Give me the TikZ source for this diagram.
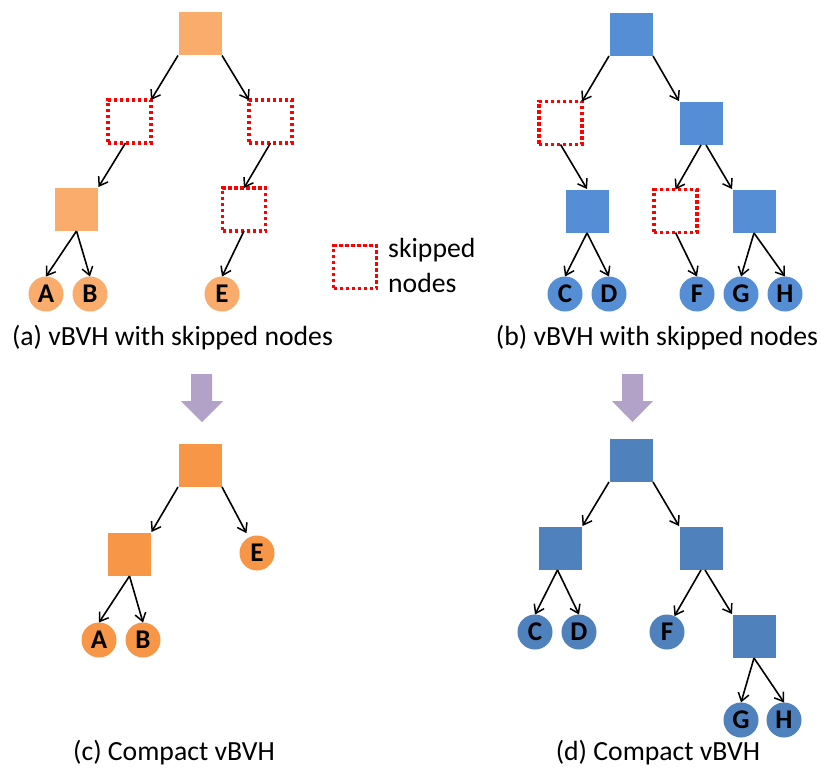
\documentclass[tikz,border=0pt]{standalone}
\usepackage{fontspec}
\setmainfont{Carlito}
\usetikzlibrary{arrows.meta}
\definecolor{orA}{RGB}{249,172,107}
\definecolor{orC}{RGB}{247,150,70}
\definecolor{blB}{RGB}{85,142,213}
\definecolor{blD}{RGB}{79,129,189}
\definecolor{purp}{RGB}{179,162,199}
\begin{document}
\begin{tikzpicture}[x=1pt,y=-1pt,
  sq/.style={rectangle,minimum size=44pt,inner sep=0pt,outer sep=0pt,draw=white,line width=0.6pt},
  skipbox/.style={rectangle,minimum size=43pt,inner sep=0pt,outer sep=0pt,draw=red,line width=3.3pt,dash pattern=on 3.2pt off 2.8pt},
  leaf/.style={circle,minimum size=35pt,inner sep=0pt,outer sep=0pt,font=\fontsize{27}{27}\selectfont\bfseries},
  edge/.style={draw=black,line width=1.6pt,-{Straight Barb[length=8pt,width=11pt,line width=1.5pt]}},
  captext/.style={anchor=base,inner sep=0pt,font=\fontsize{27.7}{33}\selectfont},
  bigarrow/.style={fill=purp,draw=none}]
\useasboundingbox (0,0) rectangle (821,773);
\fill[white] (0,0) rectangle (821,773);

% ---------- panel (a)
\node[sq,fill=orA] (a0) at (200,33.5) {};
\node[skipbox] (as1) at (129.5,121.5) {};
\node[skipbox] (as2) at (270.5,121.5) {};
\node[sq,fill=orA] (a1) at (76.5,209) {};
\node[skipbox] (as3) at (244,209.5) {};
\node[leaf,fill=orA] (A) at (46,294) {A};
\node[leaf,fill=orA] (B) at (90,294) {B};
\node[leaf,fill=orA] (E) at (222,294) {E};
\draw[edge] (a0.south west) -- (as1.north east);
\draw[edge] (a0.south east) -- (as2.north west);
\draw[edge] ([xshift=-4pt]as1.south) -- (a1.north east);
\draw[edge] (as2.south) -- (as3.north);
\draw[edge] (a1.south) -- (A.north);
\draw[edge] (a1.south) -- (B.north);
\draw[edge] (as3.south) -- (E.north);

% legend
\node[skipbox] (lg) at (355,267) {};
\node[anchor=base west,inner sep=0pt,font=\fontsize{27.7}{33}\selectfont] (lg1) at (388,257) {skipped};
\node[anchor=base west,inner sep=0pt,font=\fontsize{27.7}{33}\selectfont] (lg2) at (388,292) {nodes};

% ---------- panel (b)
\node[sq,fill=blB] (b0) at (631,34) {};
\node[skipbox] (bs1) at (560.5,123) {};
\node[sq,fill=blB] (b1) at (701,123) {};
\node[sq,fill=blB] (b2) at (587,211) {};
\node[skipbox] (bs2) at (675.5,211) {};
\node[sq,fill=blB] (b3) at (754,211) {};
\node[leaf,fill=blB] (C) at (565,294) {C};
\node[leaf,fill=blB] (D) at (609,294) {D};
\node[leaf,fill=blB] (F) at (697,294) {F};
\node[leaf,fill=blB] (G) at (741,294) {G};
\node[leaf,fill=blB] (H) at (785,294) {H};
\draw[edge] (b0.south west) -- (bs1.north east);
\draw[edge] (b0.south east) -- (b1.north west);
\draw[edge] (bs1.south) -- (b2.north);
\draw[edge] (b1.south) -- (bs2.north);
\draw[edge] ([xshift=5pt]b1.south) -- (b3.north west);
\draw[edge] (b2.south) -- (C.north);
\draw[edge] (b2.south) -- (D.north);
\draw[edge] (bs2.south) -- (F.north);
\draw[edge] (b3.south) -- (G.north);
\draw[edge] (b3.south) -- (H.north);

% captions top
\node[captext] (capa) at (172.5,345) {(a) vBVH with skipped nodes};
\node[captext] (capb) at (657,345) {(b) vBVH with skipped nodes};

% big arrows
\fill[bigarrow] (191,374) -- (212,374) -- (212,401) -- (223,401) -- (202,422) -- (181,401) -- (191,401) -- cycle;
\fill[bigarrow] (622,374) -- (643,374) -- (643,401) -- (653,401) -- (632.5,422) -- (612,401) -- (622,401) -- cycle;

% ---------- panel (c)
\node[sq,fill=orC] (c0) at (200,465) {};
\node[sq,fill=orC] (c1) at (129.5,554) {};
\node[leaf,fill=orC] (E2) at (257,553) {E};
\node[leaf,fill=orC] (A2) at (99,640) {A};
\node[leaf,fill=orC] (B2) at (143,640) {B};
\draw[edge] (c0.south west) -- (c1.north east);
\draw[edge,shorten >=5pt] (c0.south east) -- (E2.118);
\draw[edge] (c1.south) -- (A2.north);
\draw[edge] (c1.south) -- (B2.north);

% ---------- panel (d)
\node[sq,fill=blD] (d0) at (631,460) {};
\node[sq,fill=blD] (d1) at (560.5,548) {};
\node[sq,fill=blD] (d2) at (701,548) {};
\node[sq,fill=blD] (d3) at (754,636) {};
\node[leaf,fill=blD] (C2) at (535,632) {C};
\node[leaf,fill=blD] (D2) at (579,632) {D};
\node[leaf,fill=blD] (F2) at (667,632) {F};
\node[leaf,fill=blD] (G2) at (741,720) {G};
\node[leaf,fill=blD] (H2) at (784,720) {H};
\draw[edge] (d0.south west) -- (d1.north east);
\draw[edge] (d0.south east) -- (d2.north west);
\draw[edge] ([xshift=-3pt]d1.south) -- (C2.north);
\draw[edge] ([xshift=-3pt]d1.south) -- (D2.north);
\draw[edge] (d2.south) -- (F2.65);
\draw[edge] ([xshift=4pt]d2.south) -- (d3.north west);
\draw[edge] (d3.south) -- (G2.north);
\draw[edge] (d3.south) -- (H2.north);

% captions bottom
\node[captext] (capc) at (174,760) {(c) Compact vBVH};
\node[captext] (capd) at (658,760) {(d) Compact vBVH};
\end{tikzpicture}
\end{document}
